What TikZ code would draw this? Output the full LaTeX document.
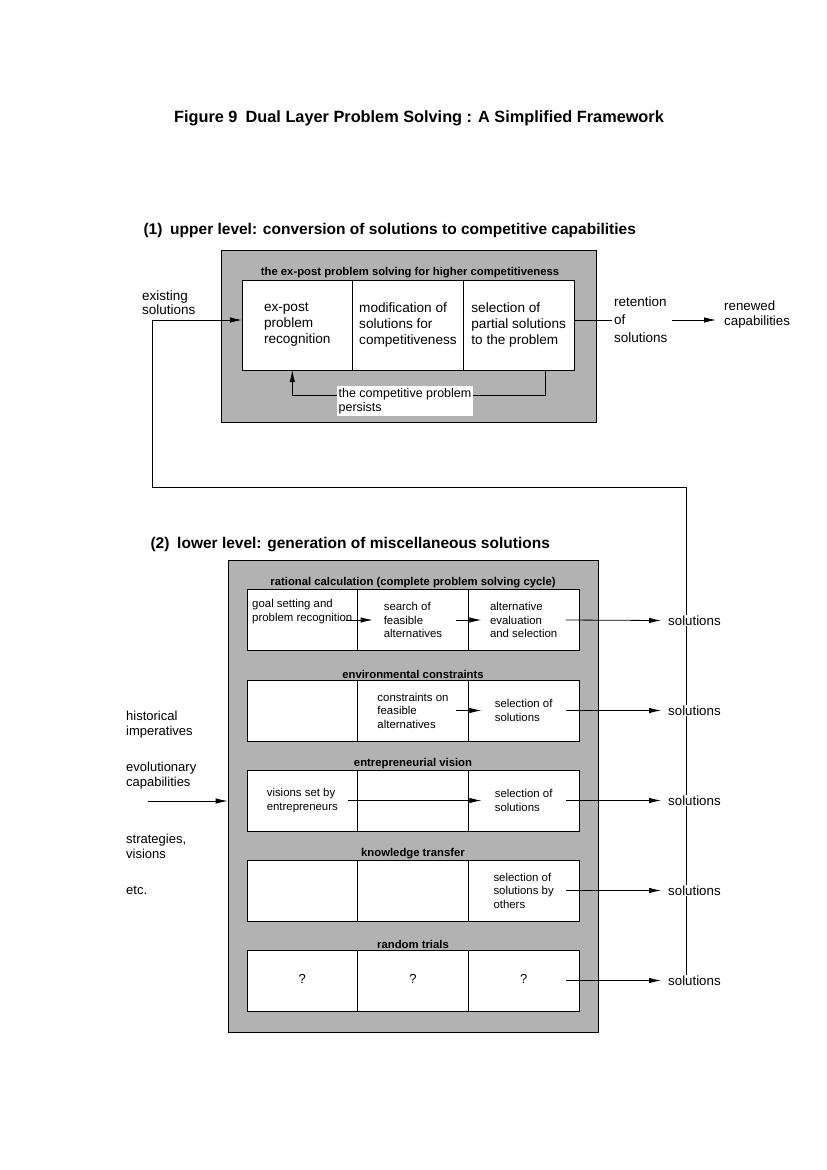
\documentclass[tikz,border=0pt]{standalone}
\usepackage{fontspec}
\setmainfont{Liberation Sans}
\usetikzlibrary{arrows.meta,positioning}

\begin{document}
\begin{tikzpicture}[x=1pt,y=-1pt,
  shadebox/.style={draw,line width=0.6pt,fill=black!30,inner sep=0pt},
  ucell/.style={draw,fill=white,line width=0.6pt,outer sep=0pt,inner sep=0pt,
               minimum width=110.67pt,minimum height=90pt,align=left,
               font=\fontsize{13.6}{16}\selectfont},
  lcell/.style={draw,fill=white,line width=0.6pt,outer sep=0pt,inner sep=0pt,
               minimum width=110.67pt,minimum height=61pt,align=left,
               font=\fontsize{11.4}{13.5}\selectfont},
  boxlbl/.style={font=\fontsize{11.3}{13}\bfseries,inner sep=1pt},
  sidelbl/.style={align=left,anchor=west,inner sep=0pt,font=\fontsize{13}{15}\selectfont},
  outlbl/.style={anchor=west,fill=white,inner sep=1pt,font=\fontsize{13.3}{15}\selectfont},
  arrow/.style={-{Latex[length=12pt,width=5.5pt]},line width=0.8pt},
  line/.style={line width=0.8pt}]
\useasboundingbox (0,0) rectangle (827,1170);

\node[font=\fontsize{16.3}{19}\bfseries] (title) at (419,118)
  {Figure 9\enspace Dual Layer Problem Solving : A Simplified Framework};
\node[anchor=west,font=\fontsize{15.5}{18}\bfseries] (head1) at (140,230)
  {(1)\enspace upper level: conversion of solutions to competitive capabilities};
\node[anchor=west,font=\fontsize{15.5}{18}\bfseries] (head2) at (147,545)
  {(2)\enspace lower level: generation of miscellaneous solutions};

\node[shadebox,minimum width=375pt,minimum height=172pt] (upper) at (409,336) {};
\node[boxlbl] (uplbl) at (410,273) {the ex-post problem solving for higher competitiveness};
\node[ucell] (u1) at (297.3,325) {ex-post\\problem\\recognition};
\node[ucell,right=0pt of u1] (u2) {modification of\\solutions for\\competitiveness};
\node[ucell,right=0pt of u2] (u3) {selection of\\partial solutions\\to the problem};
\draw[arrow] ([xshift=27pt]u3.south) -- ++(0,25) -| ([xshift=-5pt]u1.south);
\node[fill=white,align=left,inner sep=2pt,font=\fontsize{12.5}{14}\selectfont] (persist) at (405,401)
  {the competitive problem\\persists};

\node[sidelbl,font=\fontsize{13.5}{14}\selectfont] (exist) at (142,303) {existing\\solutions};
\node[sidelbl,font=\fontsize{13.5}{18}\selectfont] (ret) at (614,320) {retention\\of\\solutions};
\node[sidelbl,font=\fontsize{13.3}{15}\selectfont] (renew) at (724,315) {renewed\\capabilities};
\draw[line] (u3.east |- ret.west) -- ([xshift=-2pt]ret.west);
\draw[arrow] ([xshift=4pt]ret.east) -- ([xshift=-8pt]ret.east -| renew.west);

\coordinate (loopend) at (686,975);
\coordinate (turnR) at (686,487);
\coordinate (turnL) at (152,487);
\draw[arrow] (loopend) -- (turnR) -- (turnL) |- ([yshift=5pt]u1.west);

\node[shadebox,minimum width=370pt,minimum height=472pt] (lower) at (413,796) {};

\node[lcell] (r1a) at (302.3,620) {goal setting and\\problem recognition\\[6pt]};
\node[lcell,right=0pt of r1a] (r1b) {search of\\feasible\\alternatives};
\node[lcell,right=0pt of r1b] (r1c) {alternative\\evaluation\\and selection};
\node[boxlbl] (lbl1) at (413,583) {rational calculation (complete problem solving cycle)};

\node[lcell] (r2a) at (302.3,710.5) {};
\node[lcell,right=0pt of r2a] (r2b) {constraints on\\feasible\\alternatives};
\node[lcell,right=0pt of r2b] (r2c) {selection of\\solutions};
\node[boxlbl] (lbl2) at (413,674) {environmental constraints};

\node[lcell] (r3a) at (302.3,800.5) {visions set by\\entrepreneurs};
\node[lcell,right=0pt of r3a] (r3b) {};
\node[lcell,right=0pt of r3b] (r3c) {selection of\\solutions};
\node[boxlbl] (lbl3) at (413,764) {entrepreneurial vision};

\node[lcell] (r4a) at (302.3,890.5) {};
\node[lcell,right=0pt of r4a] (r4b) {};
\node[lcell,right=0pt of r4b] (r4c) {selection of\\solutions by\\others};
\node[boxlbl] (lbl4) at (413,854) {knowledge transfer};

\node[lcell,font=\fontsize{13}{15}\selectfont] (r5a) at (302.3,980.5) {\raisebox{4pt}{?}};
\node[lcell,font=\fontsize{13}{15}\selectfont,right=0pt of r5a] (r5b) {\raisebox{4pt}{?}};
\node[lcell,font=\fontsize{13}{15}\selectfont,right=0pt of r5b] (r5c) {\raisebox{4pt}{?}};
\node[boxlbl] (lbl5) at (413,944) {random trials};

\draw[arrow] ([xshift=-12pt]r1a.east) -- ([xshift=15pt]r1b.west);
\draw[arrow] ([xshift=-12pt]r1b.east) -- ([xshift=13pt]r1c.west);
\draw[arrow] ([xshift=-12pt]r2b.east) -- ([xshift=13pt]r2c.west);
\draw[arrow] ([xshift=-10pt]r3a.east) -- ([xshift=13pt]r3c.west);

\foreach \r in {1,...,5} {
  \node[outlbl] (sol\r) at (667,{530.5+90*\r}) {solutions};
  \draw[arrow] ([xshift=-13pt]r\r c.east) -- ([xshift=-6pt]sol\r.west);
}

\node[sidelbl] (hist) at (126,725) {historical\\imperatives};
\node[sidelbl] (evol) at (126,776) {evolutionary\\capabilities};
\node[sidelbl] (strat) at (126,846) {strategies,\\visions};
\node[sidelbl] (etc) at (126,890) {etc.};
\coordinate (drivers) at (148,801);
\draw[arrow] (drivers) -- (drivers -| lower.west);
\end{tikzpicture}
\end{document}
